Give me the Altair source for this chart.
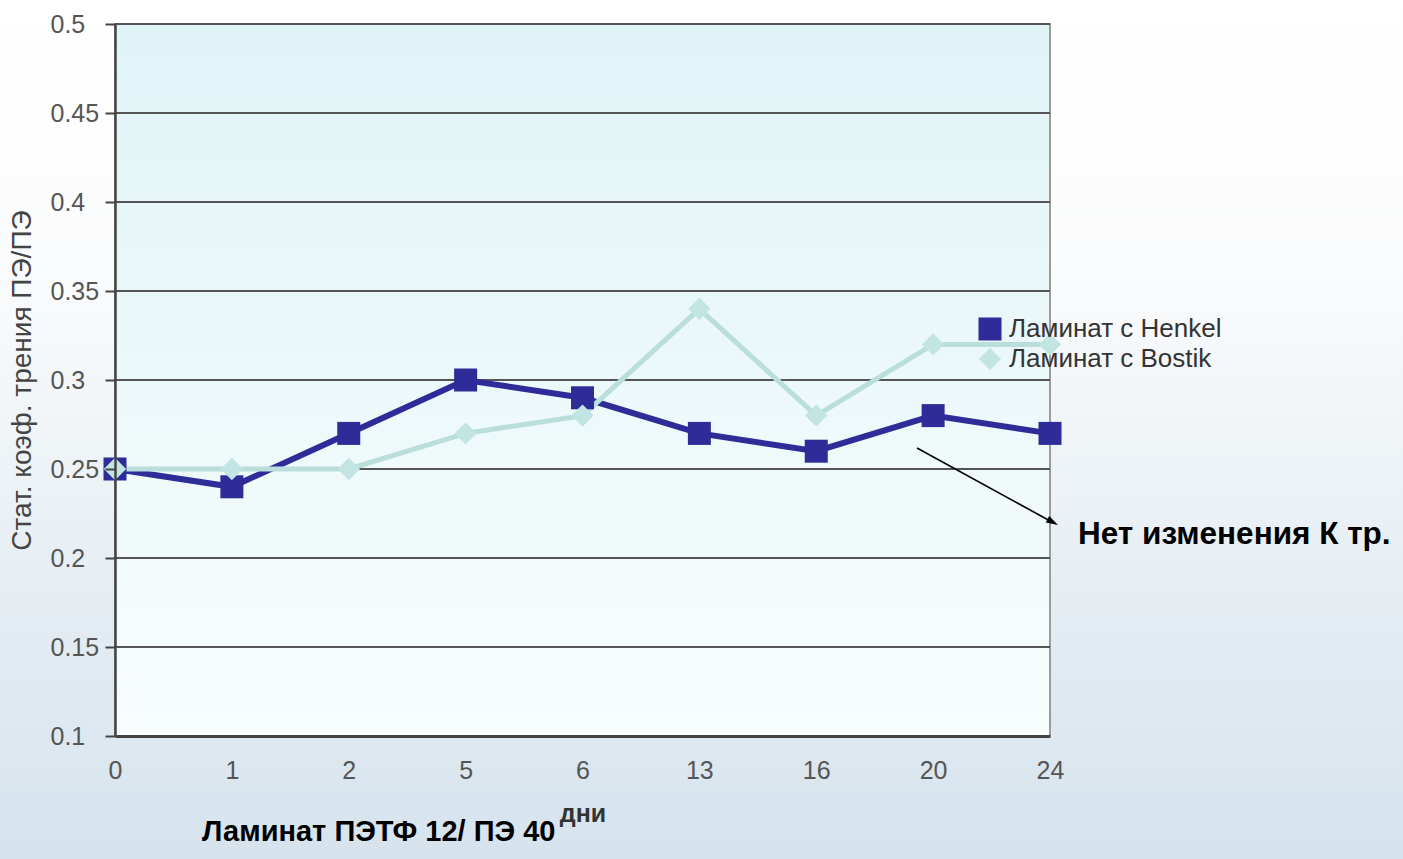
import altair as alt
import pandas as pd

# --- data -----------------------------------------------------------------
days = ["0", "1", "2", "5", "6", "13", "16", "20", "24"]
henkel = [0.25, 0.24, 0.27, 0.30, 0.29, 0.27, 0.26, 0.28, 0.27]
bostik = [0.25, 0.25, 0.25, 0.27, 0.28, 0.34, 0.28, 0.32, 0.32]
series_names = ["Ламинат с Henkel", "Ламинат с Bostik"]
y_ticks = [0.1, 0.15, 0.2, 0.25, 0.3, 0.35, 0.4, 0.45, 0.5]

# --- layout ---------------------------------------------------------------
PAGE_W, PAGE_H = 1403, 859
LEFT, TOP = 115, 24
W, H = 935, 712
FONT = "Liberation Sans"

HENKEL_COLOR = "#2d2c98"
BOSTIK_COLOR = "#b9dedb"
BOSTIK_POINT = "#c2e5e3"

df = pd.DataFrame({
    "day": days * 2,
    "value": henkel + bostik,
    "series": [series_names[0]] * len(days) + [series_names[1]] * len(days),
})

x_scale = alt.Scale(type="point", domain=days, padding=0)
y_scale = alt.Scale(domain=[0.1, 0.5], nice=False, zero=False)

x_axis = alt.Axis(
    ticks=False, grid=False, domainColor="#444", domainWidth=3,
    labelFont=FONT, labelFontSize=25, labelColor="#555", labelAngle=0,
    labelBaseline="middle", labelPadding=34, labelFlush=False,
    title="дни", titleFont=FONT, titleFontSize=25, titleFontWeight="bold",
    titleColor="#333", titleX=W / 2, titleY=77, titleBaseline="middle",
    zindex=1,
)
y_axis = alt.Axis(
    values=y_ticks, format=".2~f", grid=False,
    domainColor="#444", domainWidth=2.5, tickColor="#444", tickWidth=2,
    tickSize=10, labelFont=FONT, labelFontSize=25, labelColor="#555",
    labelAlign="left", labelBaseline="middle", labelPadding=55,
    labelOverlap=False, labelFlush=False,
    title="Стат. коэф. трения ПЭ/ПЭ", titleFont=FONT, titleFontSize=28,
    titleFontWeight="normal", titleColor="#444", titleAngle=270,
    titleX=-93, titleY=356, titleAlign="center", titleBaseline="middle",
    zindex=1,
)

X = alt.X("day:N", scale=x_scale, sort=days, axis=x_axis)
Y = alt.Y("value:Q", scale=y_scale, axis=y_axis)

one = alt.Data(values=[{}])

# page background: white at the top fading to pale steel blue
page_bg = alt.Chart(one).mark_rect(
    fill=alt.LinearGradient(
        gradient="linear", x1=0, y1=0, x2=0, y2=1,
        stops=[
            alt.GradientStop(offset=0, color="#ffffff"),
            alt.GradientStop(offset=0.3, color="#fbfcfd"),
            alt.GradientStop(offset=0.7, color="#e5edf3"),
            alt.GradientStop(offset=1, color="#d6e3ed"),
        ],
    ),
    stroke=None,
).encode(
    x=alt.value(-LEFT), x2=alt.value(PAGE_W - LEFT),
    y=alt.value(-TOP), y2=alt.value(PAGE_H - TOP),
)

# plot area: light cyan at the top fading to almost white
plot_bg = alt.Chart(one).mark_rect(
    fill=alt.LinearGradient(
        gradient="linear", x1=0, y1=0, x2=0, y2=1,
        stops=[
            alt.GradientStop(offset=0, color="#e0f4f7"),
            alt.GradientStop(offset=1, color="#f8fdfd"),
        ],
    ),
    stroke="#9c9c9c", strokeWidth=2,
).encode(x=alt.value(0), x2=alt.value(W), y=alt.value(0), y2=alt.value(H))

grid = alt.Chart(pd.DataFrame({"value": y_ticks})).mark_rule(
    color="#555555", strokeWidth=2
).encode(y=Y)

line_henkel = alt.Chart(df[df.series == series_names[0]]).mark_line(
    color=HENKEL_COLOR, strokeWidth=6
).encode(x=X, y=Y)

line_bostik = alt.Chart(df[df.series == series_names[1]]).mark_line(
    color=BOSTIK_COLOR, strokeWidth=5
).encode(x=X, y=Y)

legend = alt.Legend(
    orient="none", legendX=862, legendY=292, title=None, padding=0,
    labelFont=FONT, labelFontSize=26, labelColor="#333", labelOffset=6,
    labelLimit=0, symbolSize=330, symbolStrokeWidth=0, rowPadding=4,
)

points = alt.Chart(df).mark_point(filled=True, opacity=1).encode(
    x=X, y=Y,
    color=alt.Color("series:N", scale=alt.Scale(domain=series_names,
                    range=[HENKEL_COLOR, BOSTIK_POINT]), legend=legend),
    shape=alt.Shape("series:N", scale=alt.Scale(domain=series_names,
                    range=["square", "diamond"]), legend=legend),
    size=alt.Size("series:N", scale=alt.Scale(domain=series_names,
                  range=[529, 500]), legend=None),
)

# annotation arrow and its caption
arrow_line = alt.Chart(one).mark_rule(color="black", strokeWidth=1.6).encode(
    x=alt.value(802), y=alt.value(424), x2=alt.value(937), y2=alt.value(498)
)
arrow_head = alt.Chart(one).mark_point(
    shape="M0,0L-2,-0.6L-2,0.6Z", filled=True, color="black", opacity=1,
    size=144, angle=28.6,
).encode(x=alt.value(943), y=alt.value(501))

note = alt.Chart(one).mark_text(
    text="Нет изменения К тр.", font=FONT, fontSize=31.5, fontWeight="bold",
    color="#000", align="left", baseline="middle",
).encode(x=alt.value(963), y=alt.value(511))

caption = alt.Chart(one).mark_text(
    text="Ламинат ПЭТФ 12/ ПЭ 40", font=FONT, fontSize=29, fontWeight="bold",
    color="#000", align="left", baseline="middle",
).encode(x=alt.value(87), y=alt.value(808))

chart = alt.layer(
    page_bg, plot_bg, grid, line_henkel, line_bostik, points,
    arrow_line, arrow_head, note, caption,
).properties(
    width=W, height=H,
    padding={"left": LEFT, "top": TOP, "right": PAGE_W - LEFT - W,
             "bottom": PAGE_H - TOP - H},
    autosize=alt.AutoSizeParams(type="none"),
    background="white",
).configure_view(stroke=None)

chart.save("out.html", embed_options={"renderer": "svg", "actions": False})
